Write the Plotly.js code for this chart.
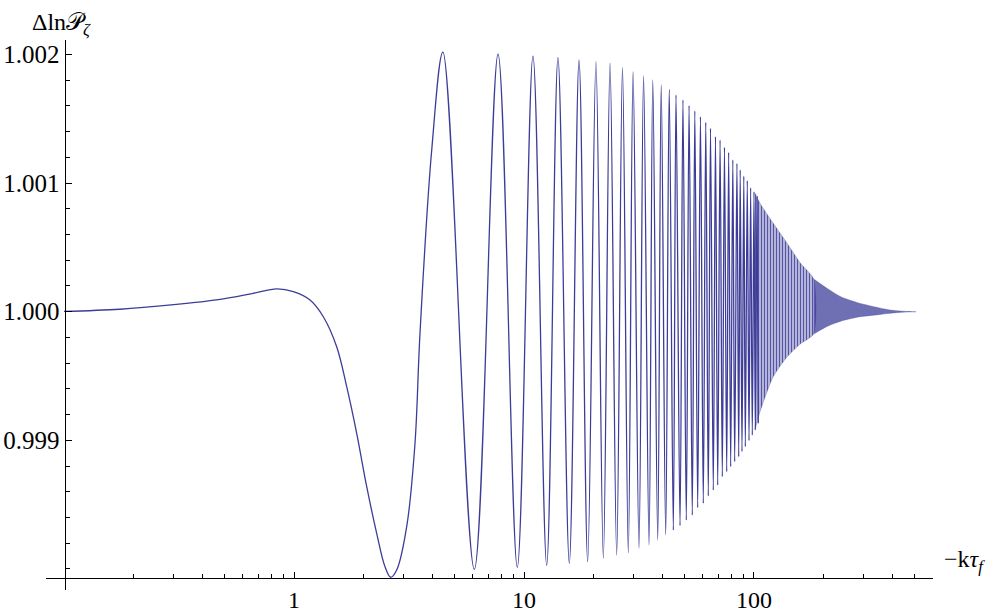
<!DOCTYPE html>
<html><head><meta charset="utf-8">
<script src="https://cdn.plot.ly/plotly-3.0.1.min.js"></script>
<style>html,body{margin:0;padding:0;background:#fff}#chart{width:1000px;height:614px}</style>
</head><body><div id="chart"></div>
<script>
// Smooth early part of the curve
const smoothX = [0.1, 0.175, 0.3, 0.477, 0.665, 0.841, 0.993, 1.174, 1.341, 1.533, 1.695, 1.873, 2.071, 2.288, 2.487, 2.633, 2.796, 3.090, 3.358, 3.530, 3.970];
const smoothY = [1.000002, 1.000019, 1.000055, 1.0000964, 1.000143, 1.000177, 1.000156, 1.000091, 0.999961, 0.999728, 0.999417, 0.999054, 0.998639, 0.998277, 0.998017, 0.997935, 0.997991, 0.998328, 0.998977, 0.999832, 1.001257];

// Oscillation maxima
const peakX = [4.44, 7.71, 10.94, 14.05, 17.35, 20.55, 23.66, 26.8, 29.8, 33.1, 36.3, 39.5, 42.8, 45.8, 49.1, 52.2, 55.3, 58.5, 61.7, 64.7, 68.0, 71.2, 74.4, 77.6, 80.9, 84.3, 87.1, 90.3, 93.5, 96.7, 100.0, 103.1];
const peakY = [1.002019, 1.002002, 1.001988, 1.001975, 1.001957, 1.001944, 1.001932, 1.001897, 1.001866, 1.001833, 1.001802, 1.001763, 1.001729, 1.001685, 1.001646, 1.001602, 1.001561, 1.001516, 1.001473, 1.001426, 1.001361, 1.001335, 1.001278, 1.001240, 1.001180, 1.001154, 1.001102, 1.001055, 1.001019, 1.000964, 1.000933, 1.000894];

// Oscillation minima
const troughX = [6.08, 9.35, 12.55, 15.74, 18.92, 22.13, 25.29, 28.41, 31.62, 34.96, 38.14, 41.31, 44.59, 47.69, 50.77, 53.91, 56.91, 60.19, 63.28, 66.53, 69.54, 72.81, 76.09, 79.18, 82.42, 85.81, 88.68, 91.67, 95.13, 98.31, 101.3, 104.4];
const troughY = [0.997997, 0.998012, 0.998028, 0.998044, 0.998056, 0.998082, 0.998108, 0.998126, 0.998160, 0.998186, 0.998225, 0.998264, 0.998302, 0.998336, 0.998380, 0.998419, 0.998476, 0.998510, 0.998567, 0.998613, 0.998652, 0.998717, 0.998756, 0.998795, 0.998834, 0.998872, 0.998911, 0.998950, 0.998997, 0.999041, 0.999080, 0.999132];

// Envelope of the unresolved (dense) oscillations
const bandX = [101.0, 106.1, 121.0, 139.1, 158.9, 181.8, 209.7, 239.8, 284.7, 335.8, 390.3, 440, 506];
const bandUpper = [1.000923, 1.000845, 1.000690, 1.000534, 1.000379, 1.000254, 1.000177, 1.000114, 1.000068, 1.000037, 1.000013, 1.000004, 1.000000];
const bandLower = [0.999080, 0.999220, 0.999492, 0.999648, 0.999749, 0.999827, 0.999889, 0.999928, 0.999959, 0.999974, 0.999988, 0.999996, 1.000000];

// Ticks
const xTickVals = [1, 10, 100];
const xTickText = ['1', '10', '100'];
const xMinorVals = [0.2,0.3,0.4,0.5,0.6,0.7,0.8,0.9,2,3,4,5,6,7,8,9,20,30,40,50,60,70,80,90,200,300,400,500];
const yTickVals = [0.999, 1.000, 1.001, 1.002];
const yTickText = ['0.999', '1.000', '1.001', '1.002'];
const yMinorVals = [0.998,0.9982,0.9984,0.9986,0.9988,0.9992,0.9994,0.9996,0.9998,1.0002,1.0004,1.0006,1.0008,1.0012,1.0014,1.0016,1.0018];

const COL = 'rgb(61,61,153)';

const osc = [];
peakX.forEach((x,i)=>osc.push([x, peakY[i]]));
troughX.forEach((x,i)=>osc.push([x, troughY[i]]));
osc.sort((a,b)=>a[0]-b[0]);
const lineX = smoothX.concat(osc.map(p=>p[0]));
const lineY = smoothY.concat(osc.map(p=>p[1]));

// split envelope: resolved-looking hatched part and fully dense part
const SPLIT = 5; // index into bandX
function bandPoly(i0, i1) {
  const xs = bandX.slice(i0, i1 + 1);
  const up = bandUpper.slice(i0, i1 + 1);
  const lo = bandLower.slice(i0, i1 + 1);
  return {x: xs.concat(xs.slice().reverse()), y: up.concat(lo.slice().reverse())};
}
const p1 = bandPoly(0, SPLIT);
const p2 = bandPoly(SPLIT, bandX.length - 1);
const bandHatch = {
  x: p1.x, y: p1.y, type: 'scatter', mode: 'lines', fill: 'toself',
  fillcolor: 'rgba(255,255,255,0)',
  fillpattern: {shape: '|', size: 3, solidity: 0.55, fgcolor: 'rgba(61,61,153,0.85)', bgcolor: 'rgba(130,130,200,0.25)'},
  line: {color: 'rgba(61,61,153,0.5)', width: 0.6, shape: 'spline', smoothing: 0.6},
  hoverinfo: 'skip', showlegend: false
};
const bandSolid = {
  x: p2.x, y: p2.y, type: 'scatter', mode: 'lines', fill: 'toself',
  fillcolor: 'rgba(61,61,153,0.74)',
  line: {color: 'rgba(61,61,153,0.6)', width: 0.6, shape: 'spline', smoothing: 0.6},
  hoverinfo: 'skip', showlegend: false
};
const curve = {
  x: lineX, y: lineY, type: 'scatter', mode: 'lines',
  line: {color: COL, width: 1.3, shape: 'spline', smoothing: 1},
  showlegend: false
};

const F = 'Liberation Serif';
const layout = {
  width: 1000, height: 614,
  margin: {l: 46, r: 67, t: 40, b: 24, pad: 0},
  paper_bgcolor: '#fff', plot_bgcolor: '#fff',
  showlegend: false,
  xaxis: {
    type: 'log', range: [-1.0783, 2.7783], domain: [0, 1],
    anchor: 'free', position: 0.02182,
    showline: true, linecolor: '#000', linewidth: 1,
    showgrid: false, zeroline: false,
    ticks: 'inside', ticklen: 6, tickwidth: 1, tickcolor: '#000',
    tickmode: 'array', tickvals: xTickVals, ticktext: xTickText,
    tickfont: {family: F, size: 24, color: '#000'},
    minor: {tickmode: 'array', tickvals: xMinorVals, ticks: 'inside', ticklen: 4, tickwidth: 1, tickcolor: '#000', showgrid: false}
  },
  yaxis: {
    range: [0.997836, 1.0021128], domain: [0, 1],
    anchor: 'free', position: 0.02086,
    showline: true, linecolor: '#000', linewidth: 1,
    showgrid: false, zeroline: false,
    ticks: 'inside', ticklen: 6, tickwidth: 1, tickcolor: '#000',
    tickmode: 'array', tickvals: yTickVals, ticktext: yTickText,
    tickfont: {family: F, size: 25, color: '#000'},
    minor: {tickmode: 'array', tickvals: yMinorVals, ticks: 'inside', ticklen: 4, tickwidth: 1, tickcolor: '#000', showgrid: false}
  },
  annotations: [
    {text: 'Δln𝒫<sub><i>ζ</i></sub>', xref: 'paper', yref: 'paper', x: -0.018, y: 1.029, xanchor: 'left', yanchor: 'middle', showarrow: false, font: {family: F, size: 24, color: '#000'}},
    {text: '−k<i>τ</i><sub><i>f</i></sub>', xref: 'paper', yref: 'paper', x: 1.0101, y: 0.0527, xanchor: 'left', yanchor: 'middle', showarrow: false, font: {family: F, size: 24, color: '#000'}}
  ]
};

Plotly.newPlot('chart', [bandHatch, bandSolid, curve], layout, {displayModeBar: false, staticPlot: true});
</script></body></html>
